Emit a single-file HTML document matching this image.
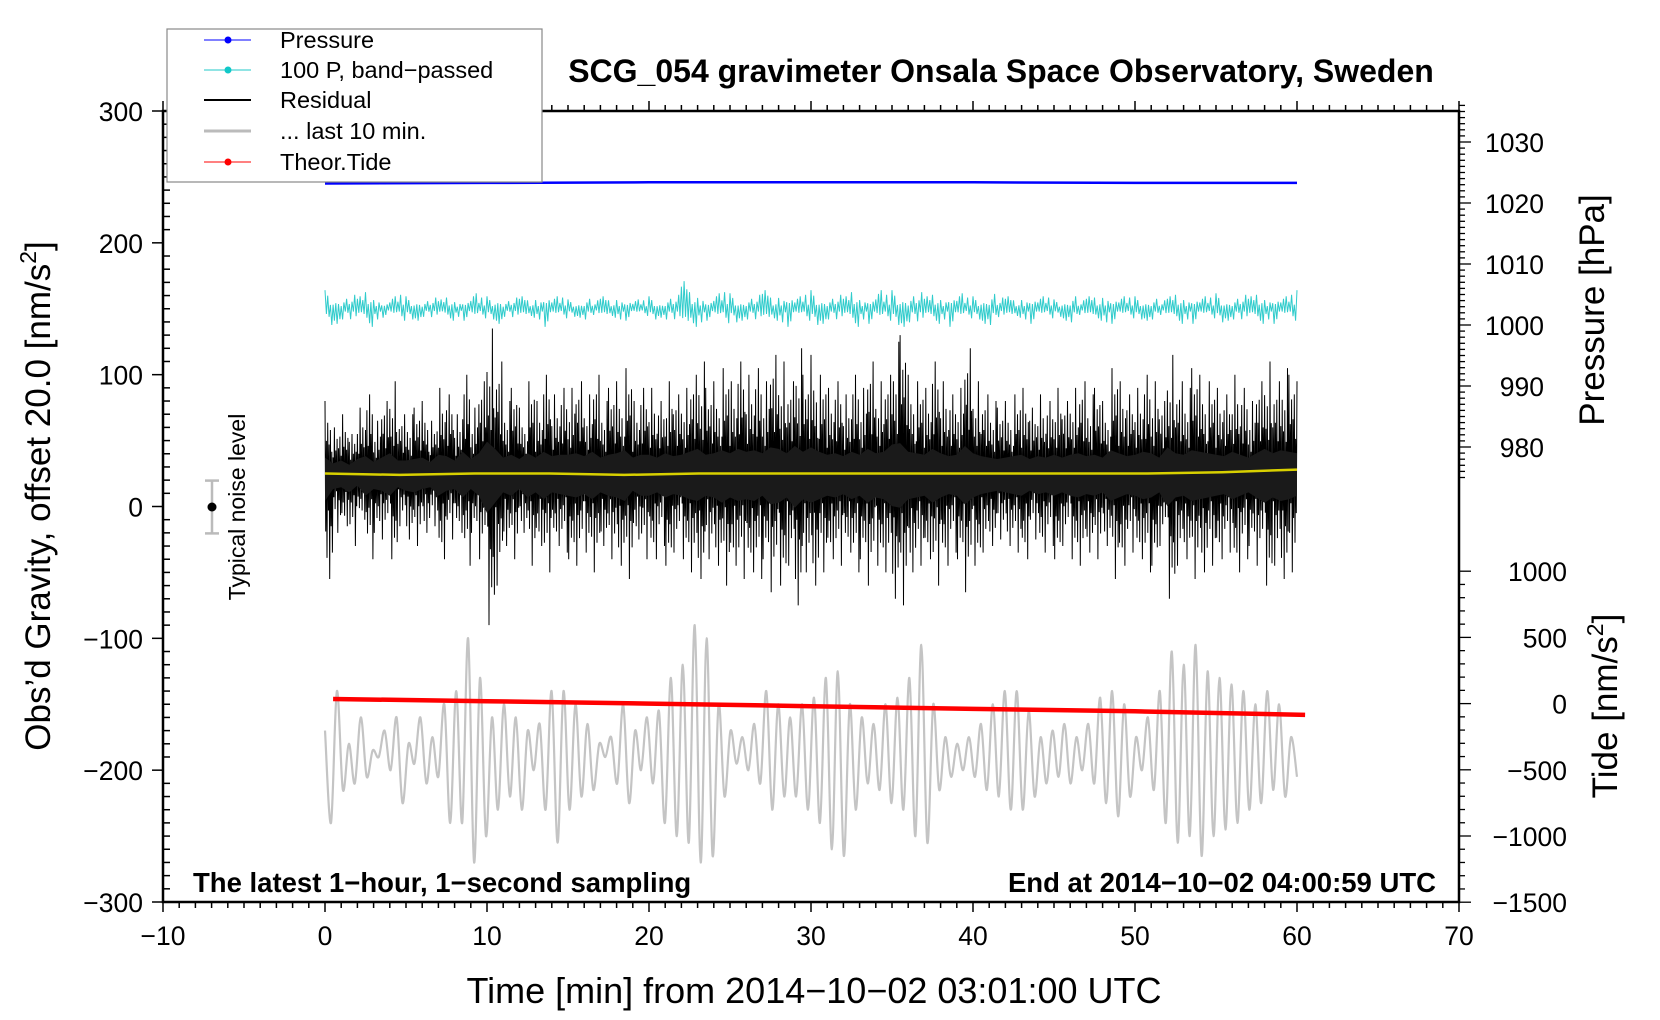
<!DOCTYPE html>
<html><head><meta charset="utf-8"><style>
html,body{margin:0;padding:0;background:#fff;}
svg{display:block;font-family:"Liberation Sans",Arial,sans-serif;}
</style></head><body>
<svg id="chart" width="1660" height="1020" viewBox="0 0 1660 1020" xmlns="http://www.w3.org/2000/svg">
<rect width="1660" height="1020" fill="#fff"/>
<g id="marks"></g>
<g id="axes"></g>
<text x="1001" y="82" font-size="32" font-weight="bold" text-anchor="middle">SCG_054 gravimeter Onsala Space Observatory, Sweden</text>
<text x="814" y="1003" font-size="36" text-anchor="middle">Time [min] from 2014−10−02 03:01:00 UTC</text>
<text transform="translate(50,496) rotate(-90)" font-size="35" text-anchor="middle">Obs’d Gravity, offset 20.0 [nm/s<tspan font-size="23" dy="-14">2</tspan><tspan dy="14">]</tspan></text>
<text transform="translate(1604,310) rotate(-90)" font-size="35" text-anchor="middle">Pressure [hPa]</text>
<text transform="translate(1617,706) rotate(-90)" font-size="35" text-anchor="middle">Tide [nm/s<tspan font-size="23" dy="-14">2</tspan><tspan dy="14">]</tspan></text>
<text x="193" y="892" font-size="27.5" font-weight="bold">The latest 1−hour, 1−second sampling</text>
<text x="1436" y="892" font-size="27.5" font-weight="bold" text-anchor="end">End at 2014−10−02 04:00:59 UTC</text>
<g>
<line x1="212" y1="480.6" x2="212" y2="533.4" stroke="#bbb" stroke-width="2.5"/>
<line x1="205" y1="480.6" x2="219" y2="480.6" stroke="#bbb" stroke-width="2.5"/>
<line x1="205" y1="533.4" x2="219" y2="533.4" stroke="#bbb" stroke-width="2.5"/>
<circle cx="212" cy="507" r="4.5" fill="#000"/>
<text transform="translate(245,507) rotate(-90)" font-size="23" text-anchor="middle">Typical noise level</text>
</g>
<g>
<rect x="167" y="29" width="375" height="153" fill="#fff" stroke="#888" stroke-width="1.2"/>
<g><line x1="204" y1="40" x2="251" y2="40" stroke="#0000ff" stroke-width="1"/><circle cx="228" cy="40" r="3.5" fill="#0000ff"/><text x="280" y="48" font-size="23.5">Pressure</text></g>
<g><line x1="204" y1="70" x2="251" y2="70" stroke="#20c8c8" stroke-width="1"/><circle cx="228" cy="70" r="3.5" fill="#10c8c8"/><text x="280" y="78" font-size="23.5">100 P, band−passed</text></g>
<g><line x1="204" y1="100" x2="251" y2="100" stroke="#000" stroke-width="2"/><text x="280" y="108" font-size="23.5">Residual</text></g>
<g><line x1="204" y1="131" x2="251" y2="131" stroke="#bbb" stroke-width="3"/><text x="280" y="139" font-size="23.5">... last 10 min.</text></g>
<g><line x1="204" y1="162" x2="251" y2="162" stroke="#ff0000" stroke-width="1"/><circle cx="228" cy="162" r="3.5" fill="#ff0000"/><text x="280" y="170" font-size="23.5">Theor.Tide</text></g>
</g>
</svg>
<script>
// ---- data ----
const residualTimes = [];  // 0..60 by 0.5
const residualMax = [80,60,70,55,75,85,65,80,95,70,70,
75,80,65,90,85,70,100,75,95,135,
110,80,90,75,95,80,100,85,90,90,
95,85,100,80,90,95,105,80,90,90,
80,95,85,90,100,110,90,95,105,95,
110,100,105,95,115,110,95,120,100,115,
100,90,95,85,100,90,110,95,100,125,
130,100,95,90,110,95,85,90,120,95,
85,80,75,80,85,90,75,85,80,90,
80,90,95,85,90,80,105,95,85,90,
100,95,80,115,95,90,105,100,95,90,
85,100,90,80,95,110,95,105,100,95];
const residualMin = [-55,-20,-15,-30,-10,-40,-20,-25,-40,-15,-25,
-30,-20,-15,-40,-25,-20,-45,-20,-40,-90,
-60,-30,-40,-20,-45,-30,-50,-30,-35,-40,
-45,-35,-50,-30,-40,-45,-55,-25,-40,-40,
-30,-45,-35,-40,-50,-55,-40,-45,-60,-45,
-55,-50,-55,-40,-65,-60,-45,-75,-50,-60,
-50,-40,-45,-35,-50,-40,-60,-45,-50,-70,
-75,-50,-45,-40,-60,-45,-35,-40,-65,-45,
-35,-30,-25,-30,-35,-40,-25,-35,-30,-40,
-30,-40,-45,-35,-40,-30,-55,-45,-35,-40,
-50,-45,-30,-70,-45,-40,-55,-50,-45,-40,
-35,-50,-40,-30,-45,-60,-45,-55,-50,-40];
const residualMean = [25,24,25,25,24,25,25,25,25,25,25,25,26,28];
const bandAmp = [3,2.5,2,2.5,2,3,2,1.5,2,2.5,2,
2,1.5,2,1.5,2,1.5,2,2.5,2,2,
2.5,1.5,2,2,1.5,2,3,2,2,1.5,
1.5,2,1.5,2,1.5,2,2,1.5,1.5,2,
1.5,2,2.5,4.5,3,2.5,2,2.5,3,2.5,
2,2,2.5,3,2,2.5,3,2,2.5,3,
2.5,2,2.5,2,3,2,2.5,3,2.5,3,
3,2.5,3,2,2.5,2,3,2.5,2,2,
2.5,3,2,2,1.5,2,2.5,2,2,1.5,
2,2.5,1.5,2,2,2.5,2.5,2,2,2,
2,2,1.5,2,2.5,2,2.5,2,2,2.5,
2,2,2.5,2,2.5,2,2.5,2,2.5,3];
const bandCenter = 1002.7;
const pressureTimes = [0,10,20,30,40,50,60];
const pressureVals = [1023.2,1023.3,1023.4,1023.4,1023.4,1023.3,1023.3];
const tideTimes = [0.5,10,20,30,40,50,60.5];
const tideVals = [35,18,0,-20,-40,-58,-85];
const grayVals = [-170,-240,-140,-215,-180,-210,-160,-205,-185,-190,-170,-200,-160,-225,-180,-195,-160,-210,-175,-205,
-150,-240,-140,-240,-100,-270,-130,-250,-160,-230,-150,-220,-160,-230,-170,-200,-165,-230,-140,-255,
-140,-230,-150,-220,-165,-215,-180,-190,-175,-210,-150,-225,-170,-200,-160,-210,-155,-240,-130,-250,
-120,-255,-90,-270,-100,-265,-150,-220,-170,-195,-175,-200,-165,-210,-140,-230,-150,-220,-160,-220,
-150,-230,-145,-240,-130,-260,-125,-265,-150,-230,-160,-210,-165,-215,-150,-225,-145,-230,-130,-250,
-105,-255,-150,-215,-175,-205,-180,-200,-175,-205,-165,-215,-150,-220,-140,-230,-140,-230,-155,-220,
-175,-210,-170,-205,-165,-210,-175,-200,-165,-210,-145,-225,-140,-235,-150,-220,-175,-200,-160,-215,
-140,-240,-110,-255,-120,-250,-105,-265,-125,-250,-130,-245,-135,-240,-140,-230,-150,-225,-140,-215,
-150,-220,-175,-205];

// ---- scales ----
const X0=163,X1=1459,Y0=111,Y1=902;
const xs=t=>X0+(t+10)*(X1-X0)/80;
const yg=v=>Y1-(v+300)*(Y1-Y0)/600;
const yp=p=>325-(p-1000)*6.1;
const yt=v=>703.6-v*66.2/500;
const NS='http://www.w3.org/2000/svg';
const marks=document.getElementById('marks');
const axes=document.getElementById('axes');
function mk(tag,attrs,parent){const e=document.createElementNS(NS,tag);for(const k in attrs)e.setAttribute(k,attrs[k]);parent.appendChild(e);return e;}
for(let i=0;i<residualMax.length;i++)residualTimes.push(i*0.5);

// last 10 min (gray) smooth curve
(function(){
  const n=grayVals.length, step=60/(n-1);
  const pts=grayVals.map((v,i)=>[xs(i*step),yg(v)]);
  let d='M'+pts[0][0].toFixed(1)+','+pts[0][1].toFixed(1);
  for(let i=0;i<pts.length-1;i++){
    const p0=pts[Math.max(0,i-1)],p1=pts[i],p2=pts[i+1],p3=pts[Math.min(pts.length-1,i+2)];
    const c1=[p1[0]+(p2[0]-p0[0])/6,p1[1]+(p2[1]-p0[1])/6];
    const c2=[p2[0]-(p3[0]-p1[0])/6,p2[1]-(p3[1]-p1[1])/6];
    d+=' C'+c1[0].toFixed(1)+','+c1[1].toFixed(1)+' '+c2[0].toFixed(1)+','+c2[1].toFixed(1)+' '+p2[0].toFixed(1)+','+p2[1].toFixed(1);
  }
  const el=mk('path',{d:d,fill:'none',stroke:'#c4c4c4','stroke-width':2.2},marks);
  
  
})();

// theoretical tide
(function(){
  const d=tideTimes.map((t,i)=>(i?'L':'M')+xs(t).toFixed(1)+','+yt(tideVals[i]).toFixed(1)).join(' ');
  const el=mk('path',{d:d,fill:'none',stroke:'#ff0000','stroke-width':4.5},marks);
  
  
})();

// residual
(function(){
  const g=mk('g',{},marks);
  
  
  const c=25; let d='';
  const fr=[1,0.55,0.45,0.8,0.7,0.35,0.4,1,0.6,0.5,0.3,0.75];
  const N=residualMax.length;
  for(let i=0;i<N;i++){
    const t=residualTimes[i];
    const hi=residualMax[i]-c, lo=residualMin[i]-c;
    const sub=(i===N-1)?1:12;
    for(let k=0;k<sub;k++){
      const tt=t+(k/12)*0.5;
      const f=fr[(k+i*5)%12];
      const v=(k%2===0)?c+hi*f:c+lo*f;
      d+=(d?'L':'M')+xs(tt).toFixed(1)+','+yg(v).toFixed(1);
    }
  }
  mk('path',{d:d,fill:'none',stroke:'#000','stroke-width':1},g);
  let top='',bot='';
  for(let i=0;i<N;i++){
    top+=(i?'L':'M')+xs(residualTimes[i]).toFixed(1)+','+yg(c+(residualMax[i]-c)*0.22).toFixed(1);
  }
  for(let i=N-1;i>=0;i--){
    bot+='L'+xs(residualTimes[i]).toFixed(1)+','+yg(c+(residualMin[i]-c)*0.26).toFixed(1);
  }
  mk('path',{d:top+bot+'Z',fill:'#1a1a1a'},g);
  const step=60/(residualMean.length-1);
  const dm=residualMean.map((v,i)=>(i?'L':'M')+xs(i*step).toFixed(1)+','+yg(v).toFixed(1)).join(' ');
  const ym=mk('path',{d:dm,fill:'none',stroke:'#d8d000','stroke-width':2.5},g);
  
  
})();

// band-passed pressure
(function(){
  let d='';
  const fr=[1,0.3,0.7,0.45,0.2,0.9,0.5,0.25,0.8,0.35];
  const N=bandAmp.length;
  for(let i=0;i<N;i++){
    const sub=(i===N-1)?1:6;
    for(let k=0;k<sub;k++){
      const tt=i*0.5+k*0.5/6;
      const s=(k%2===0)?1:-1;
      d+=(d?'L':'M')+xs(tt).toFixed(1)+','+yp(bandCenter+s*bandAmp[i]*fr[(k+i*7)%10]).toFixed(1);
    }
  }
  const el=mk('path',{d:d,fill:'none',stroke:'#30cccc','stroke-width':1},marks);
  
  
})();

// pressure
(function(){
  const d=pressureTimes.map((t,i)=>(i?'L':'M')+xs(t).toFixed(1)+','+yp(pressureVals[i]).toFixed(1)).join(' ');
  const el=mk('path',{d:d,fill:'none',stroke:'#0000ff','stroke-width':2.5},marks);
  
  
})();

// ---- axes ----
const frame=mk('path',{d:`M${X0},${Y0}L${X1},${Y0}L${X1},${Y1}L${X0},${Y1}Z`,fill:'none',stroke:'#000','stroke-width':2.5},axes);


const xTicks=[-10,0,10,20,30,40,50,60,70];
const gTicks=[300,200,100,0,-100,-200,-300];
const pTicks=[1030,1020,1010,1000,990,980];
const tTicks=[1000,500,0,-500,-1000,-1500];
const lab=(s)=>s<0?'−'+Math.abs(s):String(s);
for(let t=-10;t<=70;t+=1){
  const x=xs(t), maj=(t%10===0);
  mk('line',{x1:x,y1:Y1,x2:x,y2:Y1+(maj?10:6),stroke:'#000','stroke-width':1.5},axes);
  mk('line',{x1:x,y1:Y0,x2:x,y2:Y0-(maj?10:6),stroke:'#000','stroke-width':1.5},axes);
}
xTicks.forEach(t=>{
  const e=mk('text',{x:xs(t),y:Y1+43,'font-size':26.5,'text-anchor':'middle'},axes);
  
  
  e.textContent=lab(t);
});
for(let v=-300;v<=300;v+=10){
  const y=yg(v), maj=(v%100===0);
  if(maj) mk('line',{x1:X0-11,y1:y,x2:X0,y2:y,stroke:'#000','stroke-width':1.5},axes);
  else mk('line',{x1:X0,y1:y,x2:X0+7,y2:y,stroke:'#000','stroke-width':1.5},axes);
}
gTicks.forEach(v=>{
  const e=mk('text',{x:X0-20,y:yg(v)+10,'font-size':26.5,'text-anchor':'end'},axes);
  
  
  e.textContent=lab(v);
});
for(let p=975;p<=1036;p+=1){
  const y=yp(p), maj=(p%10===0);
  mk('line',{x1:X1,y1:y,x2:X1+(maj?12:6),y2:y,stroke:'#000','stroke-width':1.3},axes);
}
pTicks.forEach(p=>{
  const e=mk('text',{x:1544,y:yp(p)+10,'font-size':26.5,'text-anchor':'end'},axes);
  
  
  e.textContent=String(p);
});
for(let v=-1500;v<=1000;v+=100){
  const y=yt(v), maj=(v%500===0);
  mk('line',{x1:X1,y1:y,x2:X1+(maj?12:6),y2:y,stroke:'#000','stroke-width':1.3},axes);
}
tTicks.forEach(v=>{
  const e=mk('text',{x:1567,y:yt(v)+10,'font-size':26.5,'text-anchor':'end'},axes);
  
  
  e.textContent=lab(v);
});
</script>
</body></html>
